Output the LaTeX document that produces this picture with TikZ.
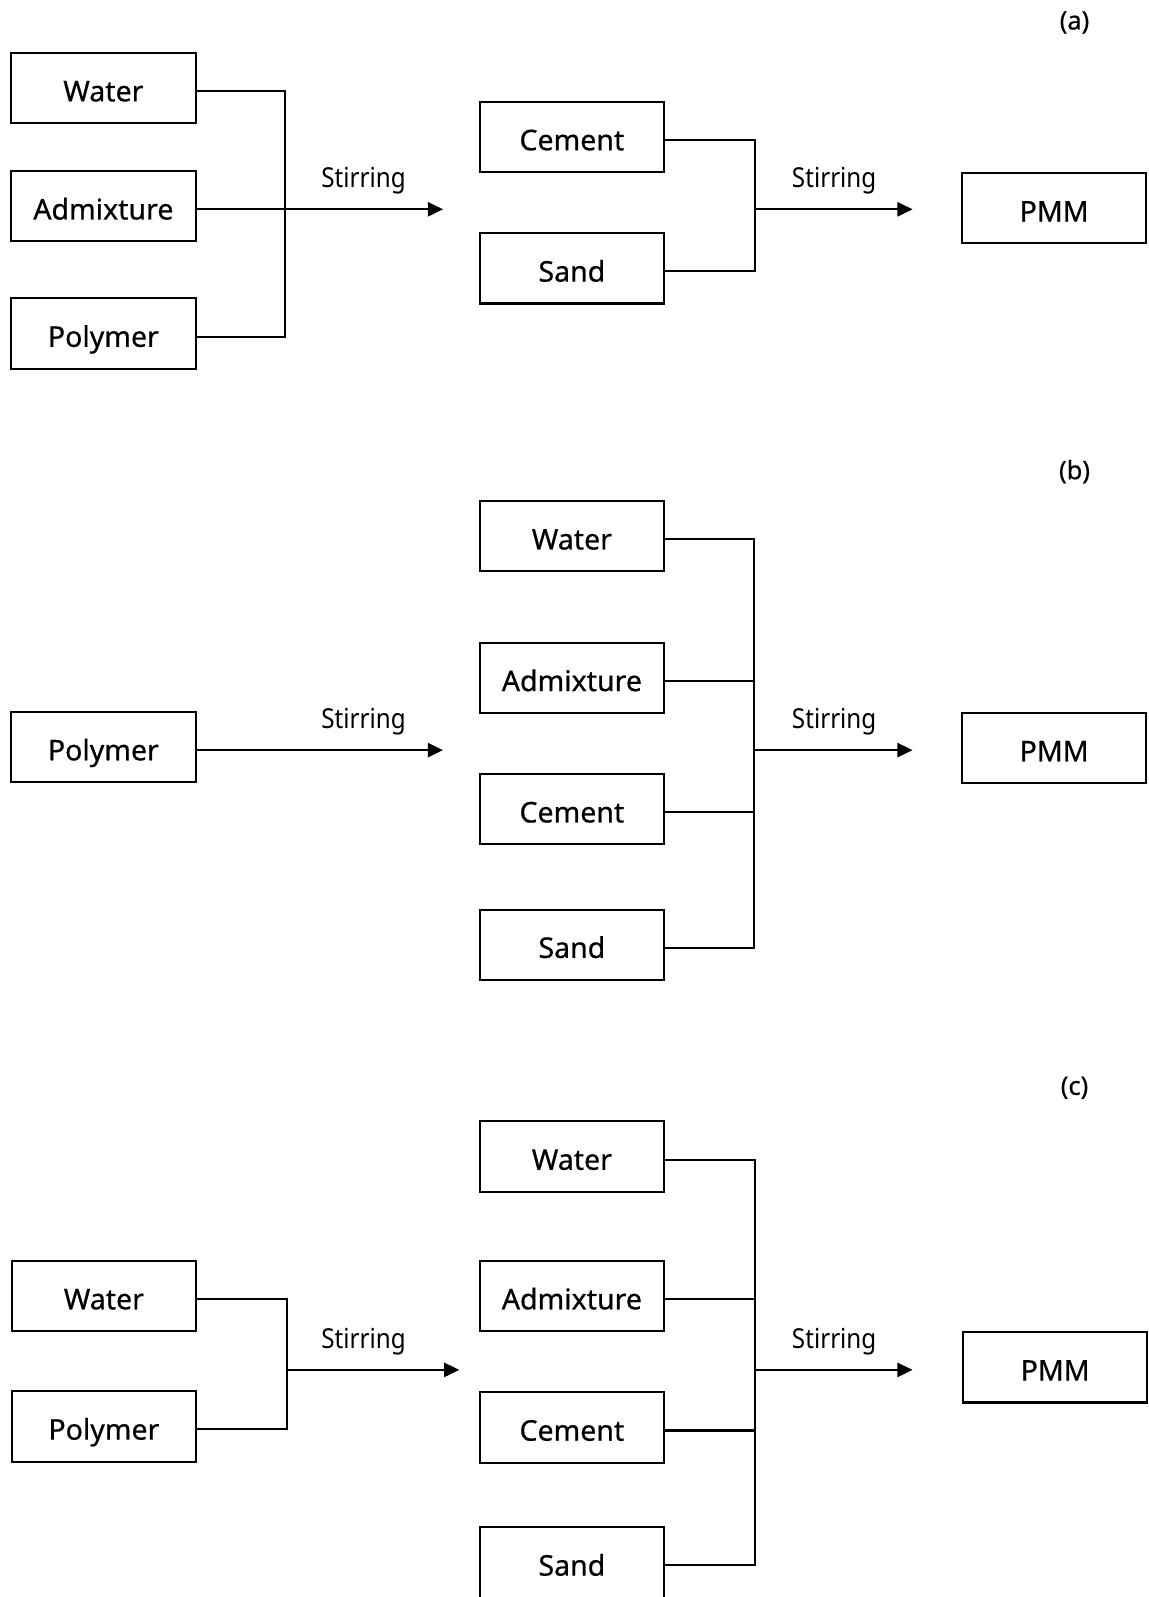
\documentclass[tikz,border=0pt]{standalone}
\usepackage{fontspec}
\setmainfont{Noto Sans}
\newfontfamily\boxfont{Noto Sans}[FakeBold=0.6]
\usetikzlibrary{arrows.meta}
\newcommand{\stirtext}{\scalebox{0.88}[1]{Stirring}}
\begin{document}
\begin{tikzpicture}[x=1pt,y=-1pt,
  box/.style={draw, line width=2pt, minimum width=181pt, minimum height=69pt,
    inner sep=0pt, font=\boxfont\fontsize{28}{30}\selectfont, text height=26pt, text depth=0pt},
  conn/.style={line width=2pt, line join=miter},
  arr/.style={conn, -{Triangle[length=15pt,width=14pt]}},
  stir/.style={anchor=base, inner sep=0pt, font=\fontsize{27}{29}\selectfont},
  tag/.style={inner sep=0pt, font=\boxfont\fontsize{25}{27}\selectfont}]
\useasboundingbox (0,0) rectangle (1128,1568);

% ---------------- (a)
\node[tag] (ta) at (1055,22) {(a)};
\node[box] (a1) at (101.5,86.5) {Water};
\node[box] (a2) at (101.5,202.5) {Admixture};
\node[box] (a3) at (101.5,327.5) {Polymer};
\coordinate (ja1) at (280,205.5);
\coordinate (ea1) at (435,205.5);
\draw[conn] ([yshift=-3pt]a1.east) -| (ja1);
\draw[conn] ([yshift=-3pt]a3.east) -| (ja1);
\draw[arr] ([yshift=-3pt]a2.east) -- (ea1);
\node[stir] (sa1) at (357,184.5) {\stirtext};

\node[box] (a4) at (561.5,134.5) {Cement};
\node[box] (a5) at (561.5,263.5) {Sand};
\coordinate (ja2) at (741,205.5);
\coordinate (ea2) at (896,205.5);
\draw[conn] ([yshift=-3pt]a4.east) -| (ja2);
\draw[conn] ([yshift=-3pt]a5.east) -| (ja2);
\draw[arr] (ja2) -- (ea2);
\node[stir] (sa2) at (819,184.5) {\stirtext};
\node[box] (a6) at (1035,204.5) {PMM};

% ---------------- (b)
\node[tag] (tb) at (1055,463) {(b)};
\node[box] (b1) at (101.5,733.5) {Polymer};
\coordinate (eb1) at (435,736.5);
\draw[arr] ([yshift=-3pt]b1.east) -- (eb1);
\node[stir] (sb1) at (357,715.5) {\stirtext};

\node[box] (b2) at (561.5,526.5) {Water};
\node[box] (b3) at (561.5,665.5) {Admixture};
\node[box] (b4) at (561.5,794.5) {Cement};
\node[box] (b5) at (561.5,927.5) {Sand};
\coordinate (jb) at (740,736.5);
\coordinate (eb2) at (896,736.5);
\draw[conn] ([yshift=-3pt]b2.east) -| (jb);
\draw[conn] ([yshift=-3pt]b5.east) -| (jb);
\draw[conn] ([yshift=-3pt]b3.east) -- ([yshift=-3pt]b3.east -| jb);
\draw[conn] ([yshift=-3pt]b4.east) -- ([yshift=-3pt]b4.east -| jb);
\draw[arr] (jb) -- (eb2);
\node[stir] (sb2) at (819,715.5) {\stirtext};
\node[box] (b6) at (1035,734.5) {PMM};

% ---------------- (c)
\node[tag] (tc) at (1055,1068) {(c)};
\node[box] (c1) at (102,1272.5) {Water};
\node[box] (c2) at (102,1400.5) {Polymer};
\coordinate (jc1) at (282,1345);
\coordinate (ec1) at (451,1345);
\draw[conn] ([yshift=-3pt]c1.east) -| (jc1);
\draw[conn] ([yshift=-3pt]c2.east) -| (jc1);
\draw[arr] (jc1) -- (ec1);
\node[stir] (sc1) at (357,1324) {\stirtext};

\node[box] (c3) at (561.5,1135.5) {Water};
\node[box] (c4) at (561.5,1272.5) {Admixture};
\node[box] (c5) at (561.5,1401.5) {Cement};
\node[box] (c6) at (561.5,1534) {Sand};
\coordinate (jc2) at (741,1345);
\coordinate (ec2) at (896,1345);
\draw[conn] ([yshift=-3pt]c3.east) -| (jc2);
\draw[conn] ([yshift=-3pt]c6.east) -| (jc2);
\draw[conn] ([yshift=-3pt]c4.east) -- ([yshift=-3pt]c4.east -| jc2);
\draw[conn] ([yshift=-3pt]c5.east) -- ([yshift=-3pt]c5.east -| jc2);
\draw[arr] (jc2) -- (ec2);
\node[stir] (sc2) at (819,1324) {\stirtext};
\node[box] (c7) at (1036,1342.5) {PMM};
\end{tikzpicture}
\end{document}
